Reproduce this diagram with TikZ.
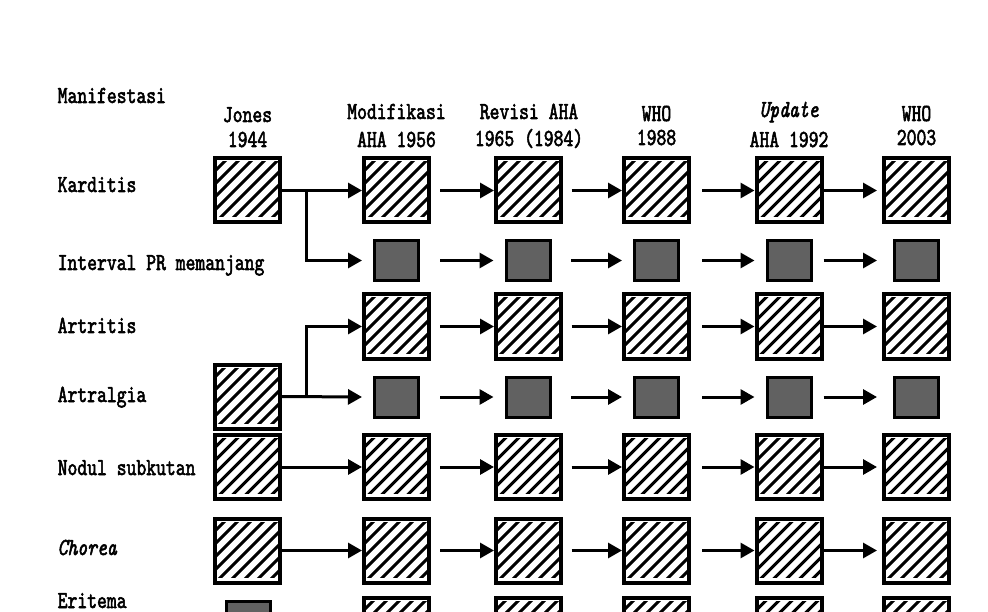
\documentclass[tikz,border=0pt]{standalone}
\usetikzlibrary{arrows.meta}
\font\mtf="[lmmono10-regular]:extend=0.765;embolden=2.2" at 24.5pt
\font\mti="[lmmono10-italic]:extend=0.765;embolden=2.2" at 24.5pt
\tikzset{
  lbl/.style={font=\mtf, anchor=base west, inner sep=0pt},
  hdr/.style={font=\mtf, anchor=base, inner sep=0pt},
  hatch/.style={draw, fill=white, line width=4pt, minimum width=65pt, minimum height=64pt, inner sep=0pt,
    path picture={
      \foreach \k in {-6,...,6}{\draw[line width=3.1pt] ([xshift=\k*13pt]path picture bounding box.center) +(-40pt,-40pt) -- +(40pt,40pt);}
      \fill (path picture bounding box.south west) rectangle ([yshift=5pt]path picture bounding box.south east);
      \fill (path picture bounding box.north west) rectangle ([yshift=-3pt]path picture bounding box.north east);
    }},
  gbox/.style={draw, fill=black!62, line width=3pt, minimum width=44pt, minimum height=40pt, inner sep=0pt, outer xsep=12.5pt},
  arr/.style={line width=3pt, -{Triangle[length=14pt,width=15pt]}},
  gB/.style={shorten <=9pt},
  gC/.style={shorten <=8.5pt},
  gD/.style={shorten <=11pt},
  gE/.style={shorten >=5pt}
}
\begin{document}
\begin{tikzpicture}[x=1pt,y=-1pt]
\useasboundingbox (0,0) rectangle (988,612);
\clip (0,0) rectangle (988,612);
\fill[white] (0,0) rectangle (988,612);

% headers
\node[lbl] (lMan) at (57.5,103) {Manifestasi};
\node[hdr] (hJa) at (247.5,122) {Jones};
\node[hdr] (hJb) at (247.5,147) {1944};
\node[hdr] (hMa) at (396.5,119) {Modifikasi};
\node[hdr] (hMb) at (396.5,147) {AHA 1956};
\node[hdr] (hRa) at (529,119) {Revisi AHA};
\node[hdr] (hRb) at (529,146) {1965 (1984)};
\node[hdr] (hWa) at (656.5,121) {WHO};
\node[hdr] (hWb) at (656.5,145) {1988};
\node[hdr] (hUa) at (789,117) {\mti Update};
\node[hdr] (hUb) at (789,147) {AHA 1992};
\node[hdr] (hOa) at (916.5,121) {WHO};
\node[hdr] (hOb) at (916.5,145) {2003};

% row labels
\node[lbl] (lK) at (57.5,192) {Karditis};
\node[lbl] (lI) at (57.5,270) {Interval PR memanjang};
\node[lbl] (lA) at (57.5,333) {Artritis};
\node[lbl] (lG) at (57.5,402) {Artralgia};
\node[lbl] (lN) at (57.5,475) {Nodul subkutan};
\node[lbl] (lC) at (57.5,555) {\mti Chorea};
\node[lbl] (lE) at (57.5,608) {Eritema};

% Karditis
\node[hatch] (JK) at (247.5,190.5) {};
\foreach \c/\x in {M/396.5,R/528.5,W/656.5,U/789,O/916.5}{\node[hatch] (\c K) at (\x,190.5) {};}
% Interval PR
\foreach \c/\x in {M/396.5,R/528,W/656.5,U/789,O/916.5}{\node[gbox] (\c I) at (\x,260.5) {};}
% Artritis
\foreach \c/\x in {M/396.5,R/528.5,W/656.5,U/789,O/916.5}{\node[hatch] (\c A) at (\x,326.5) {};}
% Artralgia
\node[hatch] (JG) at (247.5,396.5) {};
\foreach \c/\x in {M/396.5,R/528,W/656.5,U/789,O/916.5}{\node[gbox] (\c G) at (\x,397) {};}
% Nodul subkutan
\foreach \c/\x in {J/247.5,M/396.5,R/528.5,W/656.5,U/789,O/916.5}{\node[hatch] (\c N) at (\x,467) {};}
% Chorea
\foreach \c/\x in {J/247.5,M/396.5,R/528.5,W/656.5,U/789,O/916.5}{\node[hatch] (\c C) at (\x,550.5) {};}
% Eritema
\node[gbox] (JE) at (248.5,621.5) {};
\foreach \c/\x in {M/396.5,R/528.5,W/656.5,U/789,O/916.5}{\node[hatch] (\c E) at (\x,629.5) {};}

% arrows
\foreach \r in {K,G,N,C}{\draw[arr] (J\r.east) -- (M\r.west);}
\draw[arr] ([xshift=24pt]JK.east) |- (MI.west);
\draw[arr] ([xshift=24pt]JG.east) |- (MA.west);
\foreach \r in {K,I,A,G,N,C}{
  \draw[arr,gB] (M\r.east) -- (R\r.west);
  \draw[arr,gC] (R\r.east) -- (W\r.west);
  \draw[arr,gD] (W\r.east) -- (U\r.west);
  \draw[arr,gE] (U\r.east) -- (O\r.west);
}
\end{tikzpicture}
\end{document}
